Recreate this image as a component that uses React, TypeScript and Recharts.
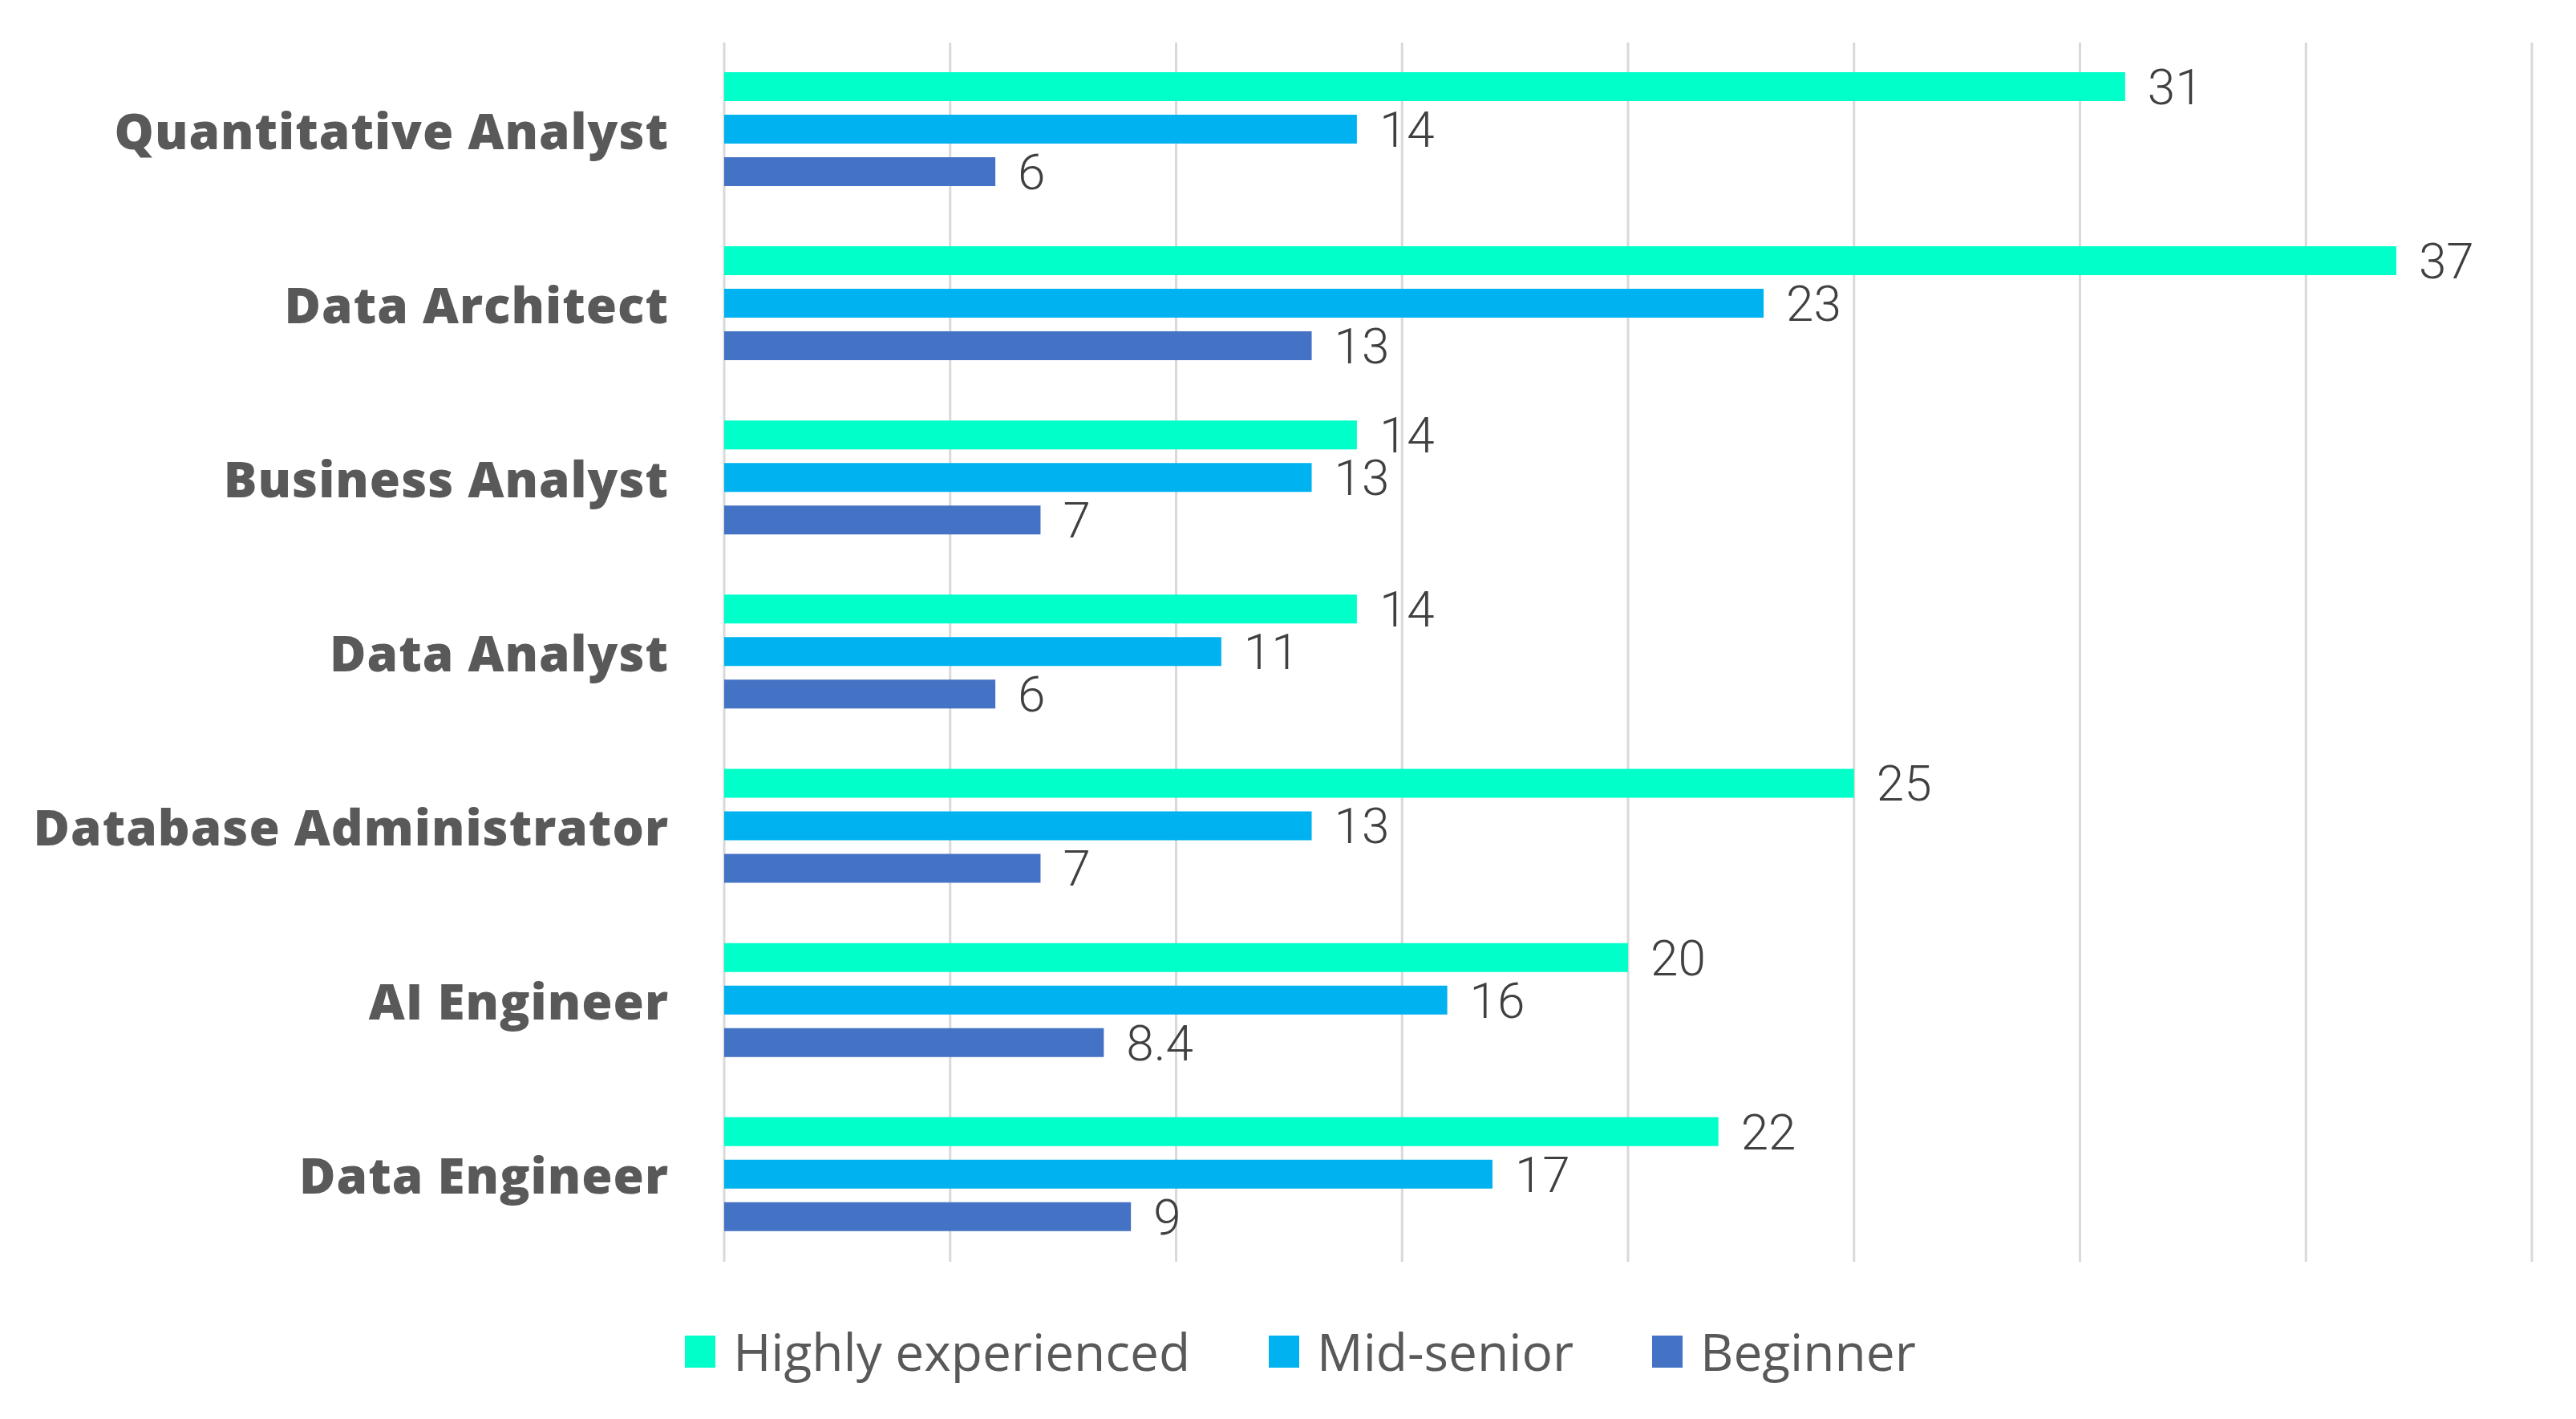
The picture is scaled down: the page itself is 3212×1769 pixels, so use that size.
import React from "react";
import {
  BarChart,
  Bar,
  XAxis,
  YAxis,
  CartesianGrid,
  Legend,
  LabelList,
} from "recharts";

const roles = [
  "Quantitative Analyst",
  "Data Architect",
  "Business Analyst",
  "Data Analyst",
  "Database Administrator",
  "AI Engineer",
  "Data Engineer",
];

const highlyExperienced = [31, 37, 14, 14, 25, 20, 22];
const midSenior = [14, 23, 13, 11, 13, 16, 17];
const beginner = [6, 13, 7, 6, 7, 8.4, 9];

const xTicks = [0, 5, 10, 15, 20, 25, 30, 35, 40];

const series = [
  { key: "highly", name: "Highly experienced", color: "#00FFC9" },
  { key: "mid", name: "Mid-senior", color: "#00B2F0" },
  { key: "beginner", name: "Beginner", color: "#4472C4" },
];

const data = roles.map((name, i) => ({
  name,
  highly: highlyExperienced[i],
  mid: midSenior[i],
  beginner: beginner[i],
}));

const W = 3212;
const H = 1769;

function RoleTick(props: any) {
  const { x, y, payload } = props;
  return (
    <text
      x={x}
      y={y}
      textAnchor="end"
      dominantBaseline="central"
      fill="#595959"
      fontFamily="'Open Sans', sans-serif"
      fontWeight={800}
      fontSize={62}
      letterSpacing={1}
    >
      {payload.value}
    </text>
  );
}

// x ticks are not labelled, but the grid still needs them
function NoTick() {
  return <g />;
}

function LegendBox() {
  return (
    <div
      style={{
        display: "flex",
        justifyContent: "center",
        alignItems: "center",
        paddingTop: 26,
        paddingLeft: 86,
        height: 196,
        boxSizing: "border-box",
        fontFamily: "'Liberation Sans Narrow', 'Open Sans', sans-serif",
        fontSize: 64,
        color: "#595959",
      }}
    >
      {series.map((s, i) => (
        <div
          key={s.key}
          style={{
            display: "flex",
            alignItems: "center",
            marginLeft: i === 0 ? 0 : 98,
          }}
        >
          <span
            style={{
              display: "inline-block",
              width: 38,
              height: 40,
              background: s.color,
              marginRight: 22,
            }}
          />
          <span style={{ lineHeight: 1 }}>{s.name}</span>
        </div>
      ))}
    </div>
  );
}

export default function App() {
  return (
    <div
      style={{
        position: "absolute",
        left: 0,
        top: 0,
        width: W,
        height: H,
        background: "#fff",
      }}
    >
      <BarChart
        width={W}
        height={H}
        data={data}
        layout="vertical"
        margin={{ top: 53, right: 55, bottom: 0, left: 0 }}
        barCategoryGap="17%"
        barGap={17}
      >
        <CartesianGrid
          horizontal={false}
          stroke="#d9d9d9"
          strokeWidth={3}
        />
        <XAxis
          type="number"
          domain={[0, 40]}
          ticks={xTicks}
          interval={0}
          tick={<NoTick />}
          axisLine={false}
          tickLine={false}
          height={1}
        />
        <YAxis
          type="category"
          dataKey="name"
          width={903}
          axisLine={false}
          tickLine={false}
          tickSize={0}
          tickMargin={69}
          tick={<RoleTick />}
        />
        <Legend
          verticalAlign="bottom"
          height={195}
          content={<LegendBox />}
        />
        {series.map((s) => (
          <Bar
            key={s.key}
            dataKey={s.key}
            name={s.name}
            fill={s.color}
            isAnimationActive={false}
          >
            <LabelList
              dataKey={s.key}
              position="right"
              offset={28}
              fill="#404040"
              fontFamily="Roboto, 'Open Sans', sans-serif"
              fontWeight={300}
              fontSize={62}
            />
          </Bar>
        ))}
      </BarChart>
    </div>
  );
}
